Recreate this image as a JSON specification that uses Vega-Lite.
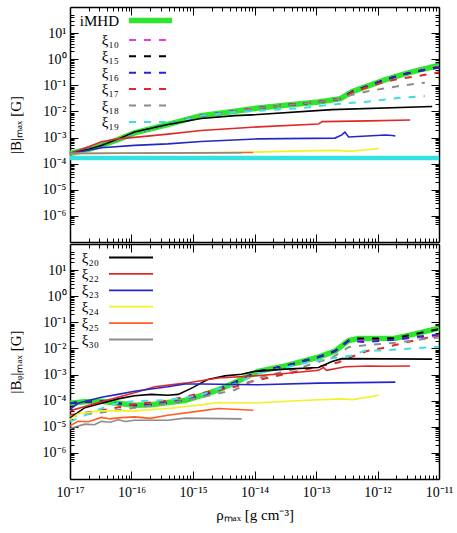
{
  "$schema": "https://vega.github.io/schema/vega-lite/v6.json",
  "background": "white",
  "padding": {"left": 8, "top": 6, "right": 20, "bottom": 5},
  "spacing": 0,
  "config": {
    "font": "Liberation Serif",
    "view": {"stroke": null},
    "axis": {
      "grid": false,
      "domainColor": "black",
      "domainWidth": 1.5,
      "tickColor": "black",
      "tickWidth": 1,
      "labelFont": "Liberation Serif",
      "labelFontSize": 14,
      "labelColor": "black",
      "titleFont": "Liberation Serif",
      "titleFontSize": 15,
      "titleFontWeight": "normal",
      "titleColor": "black",
      "labelOverlap": false,
      "labelFlush": false
    },
    "legend": {
      "labelFont": "Liberation Serif",
      "labelFontSize": 15,
      "labelColor": "black",
      "symbolSize": 100,
      "rowPadding": 0.4,
      "padding": 0,
      "offset": 6,
      "title": null
    }
  },
  "datasets": {
    "top": [
      {"s": "iMHD", "r": 1e-17, "b": 2.45e-4}, {"s": "iMHD", "r": 2.0e-17, "b": 3.55e-4}, {"s": "iMHD", "r": 3.24e-17, "b": 5.01e-4}, {"s": "iMHD", "r": 6.03e-17, "b": 8.32e-4}, {"s": "iMHD", "r": 1.12e-16, "b": 1.51e-3}, {"s": "iMHD", "r": 3.89e-16, "b": 3.16e-3}, {"s": "iMHD", "r": 1.35e-15, "b": 6.92e-3}, {"s": "iMHD", "r": 4.79e-15, "b": 1.02e-2}, {"s": "iMHD", "r": 1.15e-14, "b": 1.35e-2}, {"s": "iMHD", "r": 3.16e-14, "b": 1.74e-2}, {"s": "iMHD", "r": 1.10e-13, "b": 2.29e-2}, {"s": "iMHD", "r": 2.51e-13, "b": 3.09e-2}, {"s": "iMHD", "r": 3.89e-13, "b": 5.75e-2}, {"s": "iMHD", "r": 7.24e-13, "b": 9.77e-2}, {"s": "iMHD", "r": 1.35e-12, "b": 0.166}, {"s": "iMHD", "r": 2.51e-12, "b": 0.257}, {"s": "iMHD", "r": 4.68e-12, "b": 0.380}, {"s": "iMHD", "r": 8.71e-12, "b": 0.537}, {"s": "iMHD", "r": 1e-11, "b": 0.562},

      {"s": "ξ₁₀", "r": 1e-17, "b": 2.45e-4}, {"s": "ξ₁₀", "r": 2.0e-17, "b": 3.55e-4}, {"s": "ξ₁₀", "r": 3.24e-17, "b": 5.01e-4}, {"s": "ξ₁₀", "r": 6.03e-17, "b": 8.32e-4}, {"s": "ξ₁₀", "r": 1.12e-16, "b": 1.51e-3}, {"s": "ξ₁₀", "r": 3.89e-16, "b": 3.16e-3}, {"s": "ξ₁₀", "r": 1.35e-15, "b": 6.92e-3}, {"s": "ξ₁₀", "r": 4.79e-15, "b": 1.02e-2}, {"s": "ξ₁₀", "r": 1.15e-14, "b": 1.35e-2}, {"s": "ξ₁₀", "r": 3.16e-14, "b": 1.74e-2}, {"s": "ξ₁₀", "r": 1.10e-13, "b": 2.29e-2}, {"s": "ξ₁₀", "r": 2.51e-13, "b": 3.09e-2}, {"s": "ξ₁₀", "r": 3.89e-13, "b": 5.75e-2}, {"s": "ξ₁₀", "r": 7.24e-13, "b": 9.77e-2}, {"s": "ξ₁₀", "r": 1.35e-12, "b": 0.166}, {"s": "ξ₁₀", "r": 2.51e-12, "b": 0.257}, {"s": "ξ₁₀", "r": 4.68e-12, "b": 0.363}, {"s": "ξ₁₀", "r": 8.71e-12, "b": 0.50}, {"s": "ξ₁₀", "r": 1e-11, "b": 0.513},

      {"s": "ξ₁₅", "r": 1e-17, "b": 2.45e-4}, {"s": "ξ₁₅", "r": 2.0e-17, "b": 3.55e-4}, {"s": "ξ₁₅", "r": 3.24e-17, "b": 5.01e-4}, {"s": "ξ₁₅", "r": 6.03e-17, "b": 8.32e-4}, {"s": "ξ₁₅", "r": 1.12e-16, "b": 1.51e-3}, {"s": "ξ₁₅", "r": 3.89e-16, "b": 3.16e-3}, {"s": "ξ₁₅", "r": 1.35e-15, "b": 6.92e-3}, {"s": "ξ₁₅", "r": 4.79e-15, "b": 1.02e-2}, {"s": "ξ₁₅", "r": 1.15e-14, "b": 1.35e-2}, {"s": "ξ₁₅", "r": 3.16e-14, "b": 1.74e-2}, {"s": "ξ₁₅", "r": 1.10e-13, "b": 2.29e-2}, {"s": "ξ₁₅", "r": 2.51e-13, "b": 3.09e-2}, {"s": "ξ₁₅", "r": 3.89e-13, "b": 5.75e-2}, {"s": "ξ₁₅", "r": 7.24e-13, "b": 9.77e-2}, {"s": "ξ₁₅", "r": 1.35e-12, "b": 0.166}, {"s": "ξ₁₅", "r": 2.51e-12, "b": 0.257}, {"s": "ξ₁₅", "r": 4.68e-12, "b": 0.355}, {"s": "ξ₁₅", "r": 8.71e-12, "b": 0.468}, {"s": "ξ₁₅", "r": 1e-11, "b": 0.479},

      {"s": "ξ₁₆", "r": 1e-17, "b": 2.45e-4}, {"s": "ξ₁₆", "r": 2.0e-17, "b": 3.55e-4}, {"s": "ξ₁₆", "r": 3.24e-17, "b": 5.01e-4}, {"s": "ξ₁₆", "r": 6.03e-17, "b": 8.32e-4}, {"s": "ξ₁₆", "r": 1.12e-16, "b": 1.51e-3}, {"s": "ξ₁₆", "r": 3.89e-16, "b": 3.16e-3}, {"s": "ξ₁₆", "r": 1.35e-15, "b": 6.92e-3}, {"s": "ξ₁₆", "r": 4.79e-15, "b": 1.02e-2}, {"s": "ξ₁₆", "r": 1.15e-14, "b": 1.35e-2}, {"s": "ξ₁₆", "r": 3.16e-14, "b": 1.74e-2}, {"s": "ξ₁₆", "r": 1.10e-13, "b": 2.29e-2}, {"s": "ξ₁₆", "r": 2.51e-13, "b": 3.09e-2}, {"s": "ξ₁₆", "r": 3.89e-13, "b": 5.75e-2}, {"s": "ξ₁₆", "r": 7.24e-13, "b": 9.77e-2}, {"s": "ξ₁₆", "r": 1.35e-12, "b": 0.166}, {"s": "ξ₁₆", "r": 2.51e-12, "b": 0.257}, {"s": "ξ₁₆", "r": 4.68e-12, "b": 0.35}, {"s": "ξ₁₆", "r": 8.71e-12, "b": 0.447}, {"s": "ξ₁₆", "r": 1e-11, "b": 0.457},

      {"s": "ξ₁₇", "r": 1e-17, "b": 2.45e-4}, {"s": "ξ₁₇", "r": 2.0e-17, "b": 3.55e-4}, {"s": "ξ₁₇", "r": 3.24e-17, "b": 5.01e-4}, {"s": "ξ₁₇", "r": 6.03e-17, "b": 8.32e-4}, {"s": "ξ₁₇", "r": 1.12e-16, "b": 1.51e-3}, {"s": "ξ₁₇", "r": 3.89e-16, "b": 3.16e-3}, {"s": "ξ₁₇", "r": 1.35e-15, "b": 6.92e-3}, {"s": "ξ₁₇", "r": 4.79e-15, "b": 1.02e-2}, {"s": "ξ₁₇", "r": 1.15e-14, "b": 1.35e-2}, {"s": "ξ₁₇", "r": 3.16e-14, "b": 1.74e-2}, {"s": "ξ₁₇", "r": 1.10e-13, "b": 2.29e-2}, {"s": "ξ₁₇", "r": 2.51e-13, "b": 3.09e-2}, {"s": "ξ₁₇", "r": 3.89e-13, "b": 5.37e-2}, {"s": "ξ₁₇", "r": 7.24e-13, "b": 8.91e-2}, {"s": "ξ₁₇", "r": 1.35e-12, "b": 0.138}, {"s": "ξ₁₇", "r": 2.51e-12, "b": 0.186}, {"s": "ξ₁₇", "r": 4.68e-12, "b": 0.229}, {"s": "ξ₁₇", "r": 7.76e-12, "b": 0.282}, {"s": "ξ₁₇", "r": 1e-11, "b": 0.316},

      {"s": "ξ₁₈", "r": 1e-17, "b": 2.45e-4}, {"s": "ξ₁₈", "r": 2.0e-17, "b": 3.55e-4}, {"s": "ξ₁₈", "r": 3.24e-17, "b": 5.01e-4}, {"s": "ξ₁₈", "r": 6.03e-17, "b": 8.32e-4}, {"s": "ξ₁₈", "r": 1.12e-16, "b": 1.51e-3}, {"s": "ξ₁₈", "r": 3.89e-16, "b": 3.16e-3}, {"s": "ξ₁₈", "r": 1.35e-15, "b": 6.92e-3}, {"s": "ξ₁₈", "r": 4.79e-15, "b": 1.02e-2}, {"s": "ξ₁₈", "r": 1.15e-14, "b": 1.35e-2}, {"s": "ξ₁₈", "r": 3.16e-14, "b": 1.74e-2}, {"s": "ξ₁₈", "r": 1.10e-13, "b": 2.29e-2}, {"s": "ξ₁₈", "r": 2.51e-13, "b": 3.09e-2}, {"s": "ξ₁₈", "r": 3.89e-13, "b": 4.37e-2}, {"s": "ξ₁₈", "r": 7.24e-13, "b": 6.03e-2}, {"s": "ξ₁₈", "r": 1.35e-12, "b": 7.76e-2}, {"s": "ξ₁₈", "r": 2.51e-12, "b": 9.77e-2}, {"s": "ξ₁₈", "r": 5.89e-12, "b": 0.126},

      {"s": "ξ₁₉", "r": 1e-17, "b": 2.45e-4}, {"s": "ξ₁₉", "r": 2.0e-17, "b": 3.55e-4}, {"s": "ξ₁₉", "r": 3.24e-17, "b": 5.01e-4}, {"s": "ξ₁₉", "r": 6.03e-17, "b": 8.32e-4}, {"s": "ξ₁₉", "r": 1.12e-16, "b": 1.51e-3}, {"s": "ξ₁₉", "r": 3.89e-16, "b": 3.16e-3}, {"s": "ξ₁₉", "r": 1.35e-15, "b": 6.92e-3}, {"s": "ξ₁₉", "r": 4.79e-15, "b": 9.55e-3}, {"s": "ξ₁₉", "r": 9.12e-15, "b": 1.02e-2}, {"s": "ξ₁₉", "r": 5.89e-14, "b": 1.35e-2}, {"s": "ξ₁₉", "r": 2.63e-13, "b": 2.0e-2}, {"s": "ξ₁₉", "r": 7.24e-13, "b": 2.40e-2}, {"s": "ξ₁₉", "r": 2.51e-12, "b": 3.39e-2}, {"s": "ξ₁₉", "r": 5.89e-12, "b": 3.89e-2},

      {"s": "ξ₂₀", "r": 1e-17, "b": 2.45e-4}, {"s": "ξ₂₀", "r": 2.0e-17, "b": 3.55e-4}, {"s": "ξ₂₀", "r": 3.24e-17, "b": 5.01e-4}, {"s": "ξ₂₀", "r": 6.03e-17, "b": 8.71e-4}, {"s": "ξ₂₀", "r": 1.12e-16, "b": 1.62e-3}, {"s": "ξ₂₀", "r": 3.89e-16, "b": 3.16e-3}, {"s": "ξ₂₀", "r": 1.35e-15, "b": 5.37e-3}, {"s": "ξ₂₀", "r": 4.79e-15, "b": 6.92e-3}, {"s": "ξ₂₀", "r": 9.12e-15, "b": 7.41e-3}, {"s": "ξ₂₀", "r": 1.82e-13, "b": 1.17e-2}, {"s": "ξ₂₀", "r": 7.76e-12, "b": 1.55e-2},

      {"s": "ξ₂₂", "r": 1e-17, "b": 2.45e-4}, {"s": "ξ₂₂", "r": 1.95e-17, "b": 4.37e-4}, {"s": "ξ₂₂", "r": 3.24e-17, "b": 6.92e-4}, {"s": "ξ₂₂", "r": 6.03e-17, "b": 8.91e-4}, {"s": "ξ₂₂", "r": 1.12e-16, "b": 1.02e-3}, {"s": "ξ₂₂", "r": 3.89e-16, "b": 1.35e-3}, {"s": "ξ₂₂", "r": 1.35e-15, "b": 1.86e-3}, {"s": "ξ₂₂", "r": 1.15e-14, "b": 2.57e-3}, {"s": "ξ₂₂", "r": 1.10e-13, "b": 3.31e-3}, {"s": "ξ₂₂", "r": 1.26e-13, "b": 4.07e-3}, {"s": "ξ₂₂", "r": 7.24e-13, "b": 4.37e-3}, {"s": "ξ₂₂", "r": 3.39e-12, "b": 4.68e-3},

      {"s": "ξ₂₃", "r": 1e-17, "b": 2.45e-4}, {"s": "ξ₂₃", "r": 3.24e-17, "b": 4.07e-4}, {"s": "ξ₂₃", "r": 1.12e-16, "b": 5.01e-4}, {"s": "ξ₂₃", "r": 3.89e-16, "b": 5.75e-4}, {"s": "ξ₂₃", "r": 1.35e-15, "b": 7.08e-4}, {"s": "ξ₂₃", "r": 1.15e-14, "b": 8.91e-4}, {"s": "ξ₂₃", "r": 2.04e-13, "b": 9.55e-4}, {"s": "ξ₂₃", "r": 2.63e-13, "b": 1.26e-3}, {"s": "ξ₂₃", "r": 2.95e-13, "b": 1.62e-3}, {"s": "ξ₂₃", "r": 3.39e-13, "b": 1.05e-3}, {"s": "ξ₂₃", "r": 1.35e-12, "b": 1.26e-3}, {"s": "ξ₂₃", "r": 1.74e-12, "b": 1.20e-3}, {"s": "ξ₂₃", "r": 1.95e-12, "b": 1.15e-3},

      {"s": "ξ₂₄", "r": 1e-17, "b": 2.45e-4}, {"s": "ξ₂₄", "r": 9.12e-15, "b": 2.75e-4}, {"s": "ξ₂₄", "r": 5.89e-14, "b": 3.09e-4}, {"s": "ξ₂₄", "r": 2.34e-13, "b": 3.24e-4}, {"s": "ξ₂₄", "r": 3.39e-13, "b": 2.95e-4}, {"s": "ξ₂₄", "r": 1.05e-12, "b": 3.80e-4},

      {"s": "ξ₂₅", "r": 1e-17, "b": 2.45e-4}, {"s": "ξ₂₅", "r": 9.55e-15, "b": 2.69e-4},

      {"s": "ξ₃₀", "r": 1e-17, "b": 2.45e-4}, {"s": "ξ₃₀", "r": 6.17e-15, "b": 2.63e-4},

      {"s": "B0", "r": 1e-17, "b": 1.66e-4}, {"s": "B0", "r": 1e-11, "b": 1.66e-4}
    ],
    "bottom": [
      {"s": "iMHD", "r": 1e-17, "b": 7.94e-5}, {"s": "iMHD", "r": 1.74e-17, "b": 9.12e-5}, {"s": "iMHD", "r": 3.24e-17, "b": 9.55e-5}, {"s": "iMHD", "r": 6.03e-17, "b": 7.94e-5}, {"s": "iMHD", "r": 1.12e-16, "b": 6.61e-5}, {"s": "iMHD", "r": 2.09e-16, "b": 6.92e-5}, {"s": "iMHD", "r": 3.89e-16, "b": 8.51e-5}, {"s": "iMHD", "r": 7.41e-16, "b": 1.02e-4}, {"s": "iMHD", "r": 1.35e-15, "b": 1.55e-4}, {"s": "iMHD", "r": 2.57e-15, "b": 2.57e-4}, {"s": "iMHD", "r": 4.79e-15, "b": 5.01e-4}, {"s": "iMHD", "r": 1.15e-14, "b": 1.32e-3}, {"s": "iMHD", "r": 3.16e-14, "b": 2.14e-3}, {"s": "iMHD", "r": 1.10e-13, "b": 4.68e-3}, {"s": "iMHD", "r": 2.04e-13, "b": 7.94e-3}, {"s": "iMHD", "r": 3.39e-13, "b": 2.0e-2}, {"s": "iMHD", "r": 4.90e-13, "b": 2.40e-2}, {"s": "iMHD", "r": 1.95e-12, "b": 2.45e-2}, {"s": "iMHD", "r": 3.63e-12, "b": 3.39e-2}, {"s": "iMHD", "r": 1e-11, "b": 6.03e-2},

      {"s": "ξ₁₀", "r": 1e-17, "b": 7.94e-5}, {"s": "ξ₁₀", "r": 1.74e-17, "b": 9.12e-5}, {"s": "ξ₁₀", "r": 3.24e-17, "b": 9.55e-5}, {"s": "ξ₁₀", "r": 6.03e-17, "b": 7.94e-5}, {"s": "ξ₁₀", "r": 1.12e-16, "b": 6.61e-5}, {"s": "ξ₁₀", "r": 2.09e-16, "b": 6.92e-5}, {"s": "ξ₁₀", "r": 3.89e-16, "b": 8.51e-5}, {"s": "ξ₁₀", "r": 7.41e-16, "b": 1.02e-4}, {"s": "ξ₁₀", "r": 1.35e-15, "b": 1.55e-4}, {"s": "ξ₁₀", "r": 2.57e-15, "b": 2.57e-4}, {"s": "ξ₁₀", "r": 4.79e-15, "b": 5.01e-4}, {"s": "ξ₁₀", "r": 1.15e-14, "b": 1.32e-3}, {"s": "ξ₁₀", "r": 3.16e-14, "b": 2.14e-3}, {"s": "ξ₁₀", "r": 1.10e-13, "b": 4.68e-3}, {"s": "ξ₁₀", "r": 2.04e-13, "b": 7.94e-3}, {"s": "ξ₁₀", "r": 3.39e-13, "b": 2.0e-2}, {"s": "ξ₁₀", "r": 4.90e-13, "b": 2.09e-2}, {"s": "ξ₁₀", "r": 1.95e-12, "b": 2.19e-2}, {"s": "ξ₁₀", "r": 3.63e-12, "b": 2.51e-2}, {"s": "ξ₁₀", "r": 1e-11, "b": 3.02e-2},

      {"s": "ξ₁₅", "r": 1e-17, "b": 7.94e-5}, {"s": "ξ₁₅", "r": 1.74e-17, "b": 9.12e-5}, {"s": "ξ₁₅", "r": 3.24e-17, "b": 9.55e-5}, {"s": "ξ₁₅", "r": 6.03e-17, "b": 7.94e-5}, {"s": "ξ₁₅", "r": 1.12e-16, "b": 6.61e-5}, {"s": "ξ₁₅", "r": 2.09e-16, "b": 6.92e-5}, {"s": "ξ₁₅", "r": 3.89e-16, "b": 8.51e-5}, {"s": "ξ₁₅", "r": 7.41e-16, "b": 1.02e-4}, {"s": "ξ₁₅", "r": 1.35e-15, "b": 1.55e-4}, {"s": "ξ₁₅", "r": 2.57e-15, "b": 2.57e-4}, {"s": "ξ₁₅", "r": 4.79e-15, "b": 5.01e-4}, {"s": "ξ₁₅", "r": 1.15e-14, "b": 1.32e-3}, {"s": "ξ₁₅", "r": 3.16e-14, "b": 2.14e-3}, {"s": "ξ₁₅", "r": 1.10e-13, "b": 4.68e-3}, {"s": "ξ₁₅", "r": 2.04e-13, "b": 7.94e-3}, {"s": "ξ₁₅", "r": 3.39e-13, "b": 2.0e-2}, {"s": "ξ₁₅", "r": 4.90e-13, "b": 2.40e-2}, {"s": "ξ₁₅", "r": 1.95e-12, "b": 2.45e-2}, {"s": "ξ₁₅", "r": 3.63e-12, "b": 3.39e-2}, {"s": "ξ₁₅", "r": 1e-11, "b": 5.5e-2},

      {"s": "ξ₁₆", "r": 1e-17, "b": 7.94e-5}, {"s": "ξ₁₆", "r": 1.74e-17, "b": 9.12e-5}, {"s": "ξ₁₆", "r": 3.24e-17, "b": 9.55e-5}, {"s": "ξ₁₆", "r": 6.03e-17, "b": 7.94e-5}, {"s": "ξ₁₆", "r": 1.12e-16, "b": 6.61e-5}, {"s": "ξ₁₆", "r": 2.09e-16, "b": 6.92e-5}, {"s": "ξ₁₆", "r": 3.89e-16, "b": 8.51e-5}, {"s": "ξ₁₆", "r": 7.41e-16, "b": 1.02e-4}, {"s": "ξ₁₆", "r": 1.35e-15, "b": 1.55e-4}, {"s": "ξ₁₆", "r": 2.57e-15, "b": 2.57e-4}, {"s": "ξ₁₆", "r": 4.79e-15, "b": 5.01e-4}, {"s": "ξ₁₆", "r": 1.15e-14, "b": 1.32e-3}, {"s": "ξ₁₆", "r": 3.16e-14, "b": 2.14e-3}, {"s": "ξ₁₆", "r": 1.10e-13, "b": 4.68e-3}, {"s": "ξ₁₆", "r": 2.04e-13, "b": 7.94e-3}, {"s": "ξ₁₆", "r": 3.39e-13, "b": 2.0e-2}, {"s": "ξ₁₆", "r": 6.31e-13, "b": 1.74e-2}, {"s": "ξ₁₆", "r": 1.95e-12, "b": 2.19e-2}, {"s": "ξ₁₆", "r": 6.76e-12, "b": 3.16e-2}, {"s": "ξ₁₆", "r": 1e-11, "b": 3.31e-2},

      {"s": "ξ₁₇", "r": 1e-17, "b": 2.82e-5}, {"s": "ξ₁₇", "r": 3.24e-17, "b": 4.27e-5}, {"s": "ξ₁₇", "r": 1.12e-16, "b": 7.24e-5}, {"s": "ξ₁₇", "r": 3.89e-16, "b": 1.02e-4}, {"s": "ξ₁₇", "r": 1.35e-15, "b": 1.91e-4}, {"s": "ξ₁₇", "r": 4.79e-15, "b": 3.39e-4}, {"s": "ξ₁₇", "r": 7.76e-15, "b": 5.01e-4}, {"s": "ξ₁₇", "r": 4.07e-14, "b": 1.20e-3}, {"s": "ξ₁₇", "r": 2.34e-13, "b": 2.95e-3}, {"s": "ξ₁₇", "r": 3.89e-13, "b": 4.90e-3}, {"s": "ξ₁₇", "r": 6.76e-13, "b": 7.94e-3}, {"s": "ξ₁₇", "r": 1.17e-12, "b": 1.02e-2}, {"s": "ξ₁₇", "r": 2.09e-12, "b": 1.41e-2}, {"s": "ξ₁₇", "r": 3.89e-12, "b": 2.0e-2}, {"s": "ξ₁₇", "r": 6.76e-12, "b": 2.63e-2}, {"s": "ξ₁₇", "r": 1e-11, "b": 3.02e-2},

      {"s": "ξ₁₈", "r": 1e-17, "b": 2.51e-5}, {"s": "ξ₁₈", "r": 3.24e-17, "b": 3.55e-5}, {"s": "ξ₁₈", "r": 1.12e-16, "b": 5.37e-5}, {"s": "ξ₁₈", "r": 3.89e-16, "b": 7.94e-5}, {"s": "ξ₁₈", "r": 1.35e-15, "b": 1.35e-4}, {"s": "ξ₁₈", "r": 4.79e-15, "b": 2.57e-4}, {"s": "ξ₁₈", "r": 1.17e-14, "b": 7.41e-4}, {"s": "ξ₁₈", "r": 5.89e-14, "b": 1.91e-3}, {"s": "ξ₁₈", "r": 1.82e-13, "b": 4.47e-3}, {"s": "ξ₁₈", "r": 3.39e-13, "b": 1.12e-2}, {"s": "ξ₁₈", "r": 6.31e-13, "b": 1.32e-2}, {"s": "ξ₁₈", "r": 1.95e-12, "b": 1.66e-2}, {"s": "ξ₁₈", "r": 6.76e-12, "b": 2.40e-2}, {"s": "ξ₁₈", "r": 1e-11, "b": 2.63e-2},

      {"s": "ξ₁₉", "r": 1e-17, "b": 1.58e-5}, {"s": "ξ₁₉", "r": 1.74e-17, "b": 2.75e-5}, {"s": "ξ₁₉", "r": 3.24e-17, "b": 5.01e-5}, {"s": "ξ₁₉", "r": 6.03e-17, "b": 8.32e-5}, {"s": "ξ₁₉", "r": 1.12e-16, "b": 9.55e-5}, {"s": "ξ₁₉", "r": 3.89e-16, "b": 1.05e-4}, {"s": "ξ₁₉", "r": 1.35e-15, "b": 1.66e-4}, {"s": "ξ₁₉", "r": 4.79e-15, "b": 4.47e-4}, {"s": "ξ₁₉", "r": 1.15e-14, "b": 1.12e-3}, {"s": "ξ₁₉", "r": 3.16e-14, "b": 1.86e-3}, {"s": "ξ₁₉", "r": 1.10e-13, "b": 3.55e-3}, {"s": "ξ₁₉", "r": 3.89e-13, "b": 5.37e-3}, {"s": "ξ₁₉", "r": 6.31e-13, "b": 8.32e-3}, {"s": "ξ₁₉", "r": 1.17e-12, "b": 8.32e-3}, {"s": "ξ₁₉", "r": 3.89e-12, "b": 1.02e-2}, {"s": "ξ₁₉", "r": 1e-11, "b": 1.17e-2},

      {"s": "ξ₂₀", "r": 1e-17, "b": 2.14e-5}, {"s": "ξ₂₀", "r": 1.74e-17, "b": 5.37e-5}, {"s": "ξ₂₀", "r": 3.24e-17, "b": 7.94e-5}, {"s": "ξ₂₀", "r": 6.03e-17, "b": 1.17e-4}, {"s": "ξ₂₀", "r": 1.12e-16, "b": 1.55e-4}, {"s": "ξ₂₀", "r": 2.09e-16, "b": 1.74e-4}, {"s": "ξ₂₀", "r": 3.89e-16, "b": 1.62e-4}, {"s": "ξ₂₀", "r": 5.75e-16, "b": 1.74e-4}, {"s": "ξ₂₀", "r": 9.33e-16, "b": 2.95e-4}, {"s": "ξ₂₀", "r": 1.74e-15, "b": 6.46e-4}, {"s": "ξ₂₀", "r": 3.31e-15, "b": 8.91e-4}, {"s": "ξ₂₀", "r": 6.17e-15, "b": 1.02e-3}, {"s": "ξ₂₀", "r": 1e-14, "b": 1.32e-3}, {"s": "ξ₂₀", "r": 3.16e-14, "b": 1.62e-3}, {"s": "ξ₂₀", "r": 1.10e-13, "b": 1.86e-3}, {"s": "ξ₂₀", "r": 1.82e-13, "b": 3.16e-3}, {"s": "ξ₂₀", "r": 2.63e-13, "b": 4.07e-3}, {"s": "ξ₂₀", "r": 7.76e-12, "b": 3.89e-3},

      {"s": "ξ₂₂", "r": 1e-17, "b": 4.07e-5}, {"s": "ξ₂₂", "r": 1.74e-17, "b": 6.03e-5}, {"s": "ξ₂₂", "r": 3.24e-17, "b": 9.12e-5}, {"s": "ξ₂₂", "r": 1.12e-16, "b": 2.0e-4}, {"s": "ξ₂₂", "r": 2.40e-16, "b": 3.39e-4}, {"s": "ξ₂₂", "r": 7.41e-16, "b": 4.68e-4}, {"s": "ξ₂₂", "r": 2.57e-15, "b": 7.41e-4}, {"s": "ξ₂₂", "r": 1e-14, "b": 8.91e-4}, {"s": "ξ₂₂", "r": 3.16e-14, "b": 1.10e-3}, {"s": "ξ₂₂", "r": 1.10e-13, "b": 1.45e-3}, {"s": "ξ₂₂", "r": 1.32e-13, "b": 1.86e-3}, {"s": "ξ₂₂", "r": 1.48e-13, "b": 1.45e-3}, {"s": "ξ₂₂", "r": 3.02e-13, "b": 2.0e-3}, {"s": "ξ₂₂", "r": 7.24e-13, "b": 2.14e-3}, {"s": "ξ₂₂", "r": 1.35e-12, "b": 2.09e-3}, {"s": "ξ₂₂", "r": 3.39e-12, "b": 2.14e-3},

      {"s": "ξ₂₃", "r": 1e-17, "b": 4.68e-5}, {"s": "ξ₂₃", "r": 1.35e-17, "b": 7.94e-5}, {"s": "ξ₂₃", "r": 3.24e-17, "b": 1.35e-4}, {"s": "ξ₂₃", "r": 6.03e-17, "b": 1.74e-4}, {"s": "ξ₂₃", "r": 1.12e-16, "b": 2.29e-4}, {"s": "ξ₂₃", "r": 3.89e-16, "b": 3.39e-4}, {"s": "ξ₂₃", "r": 7.41e-16, "b": 4.37e-4}, {"s": "ξ₂₃", "r": 1.35e-15, "b": 4.37e-4}, {"s": "ξ₂₃", "r": 1.15e-14, "b": 4.07e-4}, {"s": "ξ₂₃", "r": 1.10e-13, "b": 4.68e-4}, {"s": "ξ₂₃", "r": 1.95e-12, "b": 5.13e-4},

      {"s": "ξ₂₄", "r": 1e-17, "b": 1.86e-5}, {"s": "ξ₂₄", "r": 1.35e-17, "b": 3.16e-5}, {"s": "ξ₂₄", "r": 3.24e-17, "b": 4.07e-5}, {"s": "ξ₂₄", "r": 1.12e-16, "b": 4.07e-5}, {"s": "ξ₂₄", "r": 3.89e-16, "b": 5.01e-5}, {"s": "ξ₂₄", "r": 1.35e-15, "b": 6.92e-5}, {"s": "ξ₂₄", "r": 2.57e-15, "b": 8.51e-5}, {"s": "ξ₂₄", "r": 1e-14, "b": 8.13e-5}, {"s": "ξ₂₄", "r": 5.89e-14, "b": 1.02e-4}, {"s": "ξ₂₄", "r": 2.63e-13, "b": 1.17e-4}, {"s": "ξ₂₄", "r": 3.98e-13, "b": 1.10e-4}, {"s": "ξ₂₄", "r": 1.05e-12, "b": 1.62e-4},

      {"s": "ξ₂₅", "r": 1e-17, "b": 1.10e-5}, {"s": "ξ₂₅", "r": 1.35e-17, "b": 1.62e-5}, {"s": "ξ₂₅", "r": 2.0e-17, "b": 1.55e-5}, {"s": "ξ₂₅", "r": 3.24e-17, "b": 2.29e-5}, {"s": "ξ₂₅", "r": 4.5e-17, "b": 2.0e-5}, {"s": "ξ₂₅", "r": 6.03e-17, "b": 2.19e-5}, {"s": "ξ₂₅", "r": 1.12e-16, "b": 2.40e-5}, {"s": "ξ₂₅", "r": 2.0e-16, "b": 2.1e-5}, {"s": "ξ₂₅", "r": 3.89e-16, "b": 2.75e-5}, {"s": "ξ₂₅", "r": 1.35e-15, "b": 4.07e-5}, {"s": "ξ₂₅", "r": 2.57e-15, "b": 5.01e-5}, {"s": "ξ₂₅", "r": 9.55e-15, "b": 4.27e-5},

      {"s": "ξ₃₀", "r": 1e-17, "b": 8.51e-6}, {"s": "ξ₃₀", "r": 1.74e-17, "b": 1.26e-5}, {"s": "ξ₃₀", "r": 2.5e-17, "b": 1.2e-5}, {"s": "ξ₃₀", "r": 3.24e-17, "b": 1.62e-5}, {"s": "ξ₃₀", "r": 4.5e-17, "b": 1.5e-5}, {"s": "ξ₃₀", "r": 6.03e-17, "b": 1.86e-5}, {"s": "ξ₃₀", "r": 8e-17, "b": 1.6e-5}, {"s": "ξ₃₀", "r": 1.12e-16, "b": 1.78e-5}, {"s": "ξ₃₀", "r": 3.89e-16, "b": 1.78e-5}, {"s": "ξ₃₀", "r": 7.41e-16, "b": 2.14e-5}, {"s": "ξ₃₀", "r": 6.17e-15, "b": 2.0e-5}
    ]
  },
  "vconcat": [
    {
      "width": 369,
      "height": 235,
      "data": {"name": "top"},
      "layer": [
        {
          "transform": [{"filter": "datum.s === 'iMHD'"}],
          "mark": {"type": "line", "strokeWidth": 5.5},
          "encoding": {
            "x": {"field": "r", "type": "quantitative", "scale": {"type": "log", "domain": [1e-17, 1e-11]},
              "axis": {"orient": "bottom", "title": null, "labels": false,
                "values": [1e-17,2e-17,3e-17,4e-17,5e-17,6e-17,7e-17,8e-17,9e-17,1e-16,2e-16,3e-16,4e-16,5e-16,6e-16,7e-16,8e-16,9e-16,1e-15,2e-15,3e-15,4e-15,5e-15,6e-15,7e-15,8e-15,9e-15,1e-14,2e-14,3e-14,4e-14,5e-14,6e-14,7e-14,8e-14,9e-14,1e-13,2e-13,3e-13,4e-13,5e-13,6e-13,7e-13,8e-13,9e-13,1e-12,2e-12,3e-12,4e-12,5e-12,6e-12,7e-12,8e-12,9e-12,1e-11],
                "tickSize": {"condition": {"test": "abs(log(datum.value)/LN10 - round(log(datum.value)/LN10)) < 0.001", "value": -8}, "value": -4}}},
            "y": {"field": "b", "type": "quantitative", "scale": {"type": "log", "domain": [5e-7, 57]},
              "axis": {"orient": "left", "title": "|B|ₘₐₓ [G]", "titlePadding": 19, "labelPadding": 12,
                "values": [5e-7,6e-7,7e-7,8e-7,9e-7,1e-6,2e-6,3e-6,4e-6,5e-6,6e-6,7e-6,8e-6,9e-6,1e-5,2e-5,3e-5,4e-5,5e-5,6e-5,7e-5,8e-5,9e-5,1e-4,2e-4,3e-4,4e-4,5e-4,6e-4,7e-4,8e-4,9e-4,1e-3,2e-3,3e-3,4e-3,5e-3,6e-3,7e-3,8e-3,9e-3,1e-2,2e-2,3e-2,4e-2,5e-2,6e-2,7e-2,8e-2,9e-2,0.1,0.2,0.3,0.4,0.5,0.6,0.7,0.8,0.9,1,2,3,4,5,6,7,8,9,10,20,30,40,50],
                "tickSize": {"condition": {"test": "abs(log(datum.value)/LN10 - round(log(datum.value)/LN10)) < 0.001", "value": -8}, "value": -4},
                "labelExpr": "abs(log(datum.value)/LN10 - round(log(datum.value)/LN10)) < 0.001 ? '10' + (round(log(datum.value)/LN10) < 0 ? '⁻' : '') + (abs(round(log(datum.value)/LN10)) >= 10 ? ['⁰','¹','²','³','⁴','⁵','⁶','⁷','⁸','⁹'][floor(abs(round(log(datum.value)/LN10))/10)] : '') + ['⁰','¹','²','³','⁴','⁵','⁶','⁷','⁸','⁹'][abs(round(log(datum.value)/LN10)) % 10] : ''"}},
            "color": {"field": "s", "type": "nominal",
              "scale": {"domain": ["iMHD", "ξ₁₀", "ξ₁₅", "ξ₁₆", "ξ₁₇", "ξ₁₈", "ξ₁₉"], "range": ["#2ee62e", "#e83ce8", "#000000", "#2626c8", "#e02828", "#8c8c8c", "#40dede"]},
              "legend": {"orient": "top-left", "symbolType": "M-4.3,0H4.3",
                "encode": {
                  "entries": {"update": {"width": {"value": 96}, "height": {"value": 15}}},
                  "labels": {"update": {"x": {"value": 43}, "align": {"value": "right"}}},
                  "symbols": {"update": {"x": {"value": 74.5},
                    "strokeWidth": {"signal": "datum.value === 'iMHD' ? 5.5 : 2"},
                    "strokeDash": {"signal": "datum.value === 'iMHD' ? [60, 0] : [7, 8]"}}}}}}
          }
        },
        {
          "transform": [{"filter": "indexof(['ξ₁₀','ξ₁₅','ξ₁₆','ξ₁₇','ξ₁₈','ξ₁₉'], datum.s) >= 0"}],
          "mark": {"type": "line", "strokeWidth": 2, "strokeDash": [7, 8]},
          "encoding": {
            "x": {"field": "r", "type": "quantitative", "scale": {"type": "log", "domain": [1e-17, 1e-11]},
              "axis": {"orient": "top", "title": null, "labels": false,
                "values": [1e-17,2e-17,3e-17,4e-17,5e-17,6e-17,7e-17,8e-17,9e-17,1e-16,2e-16,3e-16,4e-16,5e-16,6e-16,7e-16,8e-16,9e-16,1e-15,2e-15,3e-15,4e-15,5e-15,6e-15,7e-15,8e-15,9e-15,1e-14,2e-14,3e-14,4e-14,5e-14,6e-14,7e-14,8e-14,9e-14,1e-13,2e-13,3e-13,4e-13,5e-13,6e-13,7e-13,8e-13,9e-13,1e-12,2e-12,3e-12,4e-12,5e-12,6e-12,7e-12,8e-12,9e-12,1e-11],
                "tickSize": {"condition": {"test": "abs(log(datum.value)/LN10 - round(log(datum.value)/LN10)) < 0.001", "value": -8}, "value": -4}}},
            "y": {"field": "b", "type": "quantitative", "scale": {"type": "log", "domain": [5e-7, 57]},
              "axis": {"orient": "right", "title": null, "labels": false,
                "values": [5e-7,6e-7,7e-7,8e-7,9e-7,1e-6,2e-6,3e-6,4e-6,5e-6,6e-6,7e-6,8e-6,9e-6,1e-5,2e-5,3e-5,4e-5,5e-5,6e-5,7e-5,8e-5,9e-5,1e-4,2e-4,3e-4,4e-4,5e-4,6e-4,7e-4,8e-4,9e-4,1e-3,2e-3,3e-3,4e-3,5e-3,6e-3,7e-3,8e-3,9e-3,1e-2,2e-2,3e-2,4e-2,5e-2,6e-2,7e-2,8e-2,9e-2,0.1,0.2,0.3,0.4,0.5,0.6,0.7,0.8,0.9,1,2,3,4,5,6,7,8,9,10,20,30,40,50],
                "tickSize": {"condition": {"test": "abs(log(datum.value)/LN10 - round(log(datum.value)/LN10)) < 0.001", "value": -8}, "value": -4}}},
            "color": {"field": "s", "type": "nominal",
              "scale": {"domain": ["iMHD", "ξ₁₀", "ξ₁₅", "ξ₁₆", "ξ₁₇", "ξ₁₈", "ξ₁₉"], "range": ["#2ee62e", "#e83ce8", "#000000", "#2626c8", "#e02828", "#8c8c8c", "#40dede"]}}
          }
        },
        {
          "transform": [{"filter": "datum.s === 'B0'"}],
          "mark": {"type": "line", "strokeWidth": 4.5, "color": "#33e3e3"},
          "encoding": {
            "x": {"field": "r", "type": "quantitative", "axis": null},
            "y": {"field": "b", "type": "quantitative", "axis": null}
          }
        },
        {
          "transform": [{"filter": "indexof(['ξ₂₀','ξ₂₂','ξ₂₃','ξ₂₄','ξ₂₅','ξ₃₀'], datum.s) >= 0"}],
          "mark": {"type": "line", "strokeWidth": 1.6},
          "encoding": {
            "x": {"field": "r", "type": "quantitative", "axis": null},
            "y": {"field": "b", "type": "quantitative", "axis": null},
            "stroke": {"field": "s", "type": "nominal",
              "scale": {"domain": ["ξ₂₀", "ξ₂₂", "ξ₂₃", "ξ₂₄", "ξ₂₅", "ξ₃₀"], "range": ["#000000", "#e02828", "#2626c8", "#f2f226", "#ff5f24", "#8c8c8c"]},
              "legend": null}
          }
        }
      ],
      "resolve": {"axis": {"x": "independent", "y": "independent"}}
    },
    {
      "width": 369,
      "height": 235,
      "data": {"name": "bottom"},
      "layer": [
        {
          "transform": [{"filter": "datum.s === 'iMHD'"}],
          "mark": {"type": "line", "strokeWidth": 5.5},
          "encoding": {
            "x": {"field": "r", "type": "quantitative", "scale": {"type": "log", "domain": [1e-17, 1e-11]},
              "axis": {"orient": "bottom", "title": "ρₘₐₓ [g cm⁻³]", "titlePadding": 4, "labelPadding": 14,
                "values": [1e-17,2e-17,3e-17,4e-17,5e-17,6e-17,7e-17,8e-17,9e-17,1e-16,2e-16,3e-16,4e-16,5e-16,6e-16,7e-16,8e-16,9e-16,1e-15,2e-15,3e-15,4e-15,5e-15,6e-15,7e-15,8e-15,9e-15,1e-14,2e-14,3e-14,4e-14,5e-14,6e-14,7e-14,8e-14,9e-14,1e-13,2e-13,3e-13,4e-13,5e-13,6e-13,7e-13,8e-13,9e-13,1e-12,2e-12,3e-12,4e-12,5e-12,6e-12,7e-12,8e-12,9e-12,1e-11],
                "tickSize": {"condition": {"test": "abs(log(datum.value)/LN10 - round(log(datum.value)/LN10)) < 0.001", "value": -8}, "value": -4},
                "labelExpr": "abs(log(datum.value)/LN10 - round(log(datum.value)/LN10)) < 0.001 ? '10' + (round(log(datum.value)/LN10) < 0 ? '⁻' : '') + (abs(round(log(datum.value)/LN10)) >= 10 ? ['⁰','¹','²','³','⁴','⁵','⁶','⁷','⁸','⁹'][floor(abs(round(log(datum.value)/LN10))/10)] : '') + ['⁰','¹','²','³','⁴','⁵','⁶','⁷','⁸','⁹'][abs(round(log(datum.value)/LN10)) % 10] : ''"}},
            "y": {"field": "b", "type": "quantitative", "scale": {"type": "log", "domain": [5e-7, 57]},
              "axis": {"orient": "left", "title": "|Bᵩ|ₘₐₓ [G]", "titlePadding": 19, "labelPadding": 12,
                "values": [5e-7,6e-7,7e-7,8e-7,9e-7,1e-6,2e-6,3e-6,4e-6,5e-6,6e-6,7e-6,8e-6,9e-6,1e-5,2e-5,3e-5,4e-5,5e-5,6e-5,7e-5,8e-5,9e-5,1e-4,2e-4,3e-4,4e-4,5e-4,6e-4,7e-4,8e-4,9e-4,1e-3,2e-3,3e-3,4e-3,5e-3,6e-3,7e-3,8e-3,9e-3,1e-2,2e-2,3e-2,4e-2,5e-2,6e-2,7e-2,8e-2,9e-2,0.1,0.2,0.3,0.4,0.5,0.6,0.7,0.8,0.9,1,2,3,4,5,6,7,8,9,10,20,30,40,50],
                "tickSize": {"condition": {"test": "abs(log(datum.value)/LN10 - round(log(datum.value)/LN10)) < 0.001", "value": -8}, "value": -4},
                "labelExpr": "abs(log(datum.value)/LN10 - round(log(datum.value)/LN10)) < 0.001 ? '10' + (round(log(datum.value)/LN10) < 0 ? '⁻' : '') + (abs(round(log(datum.value)/LN10)) >= 10 ? ['⁰','¹','²','³','⁴','⁵','⁶','⁷','⁸','⁹'][floor(abs(round(log(datum.value)/LN10))/10)] : '') + ['⁰','¹','²','³','⁴','⁵','⁶','⁷','⁸','⁹'][abs(round(log(datum.value)/LN10)) % 10] : ''"}},
            "color": {"field": "s", "type": "nominal",
              "scale": {"domain": ["iMHD", "ξ₁₀", "ξ₁₅", "ξ₁₆", "ξ₁₇", "ξ₁₈", "ξ₁₉"], "range": ["#2ee62e", "#e83ce8", "#000000", "#2626c8", "#e02828", "#8c8c8c", "#40dede"]},
              "legend": null}
          }
        },
        {
          "transform": [{"filter": "indexof(['ξ₁₀','ξ₁₅','ξ₁₆','ξ₁₇','ξ₁₈','ξ₁₉'], datum.s) >= 0"}],
          "mark": {"type": "line", "strokeWidth": 2, "strokeDash": [7, 8]},
          "encoding": {
            "x": {"field": "r", "type": "quantitative", "scale": {"type": "log", "domain": [1e-17, 1e-11]},
              "axis": {"orient": "top", "title": null, "labels": false,
                "values": [1e-17,2e-17,3e-17,4e-17,5e-17,6e-17,7e-17,8e-17,9e-17,1e-16,2e-16,3e-16,4e-16,5e-16,6e-16,7e-16,8e-16,9e-16,1e-15,2e-15,3e-15,4e-15,5e-15,6e-15,7e-15,8e-15,9e-15,1e-14,2e-14,3e-14,4e-14,5e-14,6e-14,7e-14,8e-14,9e-14,1e-13,2e-13,3e-13,4e-13,5e-13,6e-13,7e-13,8e-13,9e-13,1e-12,2e-12,3e-12,4e-12,5e-12,6e-12,7e-12,8e-12,9e-12,1e-11],
                "tickSize": {"condition": {"test": "abs(log(datum.value)/LN10 - round(log(datum.value)/LN10)) < 0.001", "value": -8}, "value": -4}}},
            "y": {"field": "b", "type": "quantitative", "scale": {"type": "log", "domain": [5e-7, 57]},
              "axis": {"orient": "right", "title": null, "labels": false,
                "values": [5e-7,6e-7,7e-7,8e-7,9e-7,1e-6,2e-6,3e-6,4e-6,5e-6,6e-6,7e-6,8e-6,9e-6,1e-5,2e-5,3e-5,4e-5,5e-5,6e-5,7e-5,8e-5,9e-5,1e-4,2e-4,3e-4,4e-4,5e-4,6e-4,7e-4,8e-4,9e-4,1e-3,2e-3,3e-3,4e-3,5e-3,6e-3,7e-3,8e-3,9e-3,1e-2,2e-2,3e-2,4e-2,5e-2,6e-2,7e-2,8e-2,9e-2,0.1,0.2,0.3,0.4,0.5,0.6,0.7,0.8,0.9,1,2,3,4,5,6,7,8,9,10,20,30,40,50],
                "tickSize": {"condition": {"test": "abs(log(datum.value)/LN10 - round(log(datum.value)/LN10)) < 0.001", "value": -8}, "value": -4}}},
            "color": {"field": "s", "type": "nominal",
              "scale": {"domain": ["iMHD", "ξ₁₀", "ξ₁₅", "ξ₁₆", "ξ₁₇", "ξ₁₈", "ξ₁₉"], "range": ["#2ee62e", "#e83ce8", "#000000", "#2626c8", "#e02828", "#8c8c8c", "#40dede"]},
              "legend": null}
          }
        },
        {
          "transform": [{"filter": "indexof(['ξ₂₀','ξ₂₂','ξ₂₃','ξ₂₄','ξ₂₅','ξ₃₀'], datum.s) >= 0"}],
          "mark": {"type": "line", "strokeWidth": 1.6},
          "encoding": {
            "x": {"field": "r", "type": "quantitative", "axis": null},
            "y": {"field": "b", "type": "quantitative", "axis": null},
            "stroke": {"field": "s", "type": "nominal",
              "scale": {"domain": ["ξ₂₀", "ξ₂₂", "ξ₂₃", "ξ₂₄", "ξ₂₅", "ξ₃₀"], "range": ["#000000", "#e02828", "#2626c8", "#f2f226", "#ff5f24", "#8c8c8c"]},
              "legend": {"orient": "top-left", "symbolType": "M-4.4,0H4.4",
                "encode": {
                  "entries": {"update": {"width": {"value": 76}, "height": {"value": 15}}},
                  "labels": {"update": {"x": {"value": 23}, "align": {"value": "right"}}},
                  "symbols": {"update": {"x": {"value": 55}, "strokeWidth": {"signal": "1.8"}}}}}}
          }
        }
      ],
      "resolve": {"axis": {"x": "independent", "y": "independent"}}
    }
  ],
  "resolve": {
    "scale": {"color": "independent", "stroke": "independent"},
    "legend": {"color": "independent", "stroke": "independent"}
  }
}
